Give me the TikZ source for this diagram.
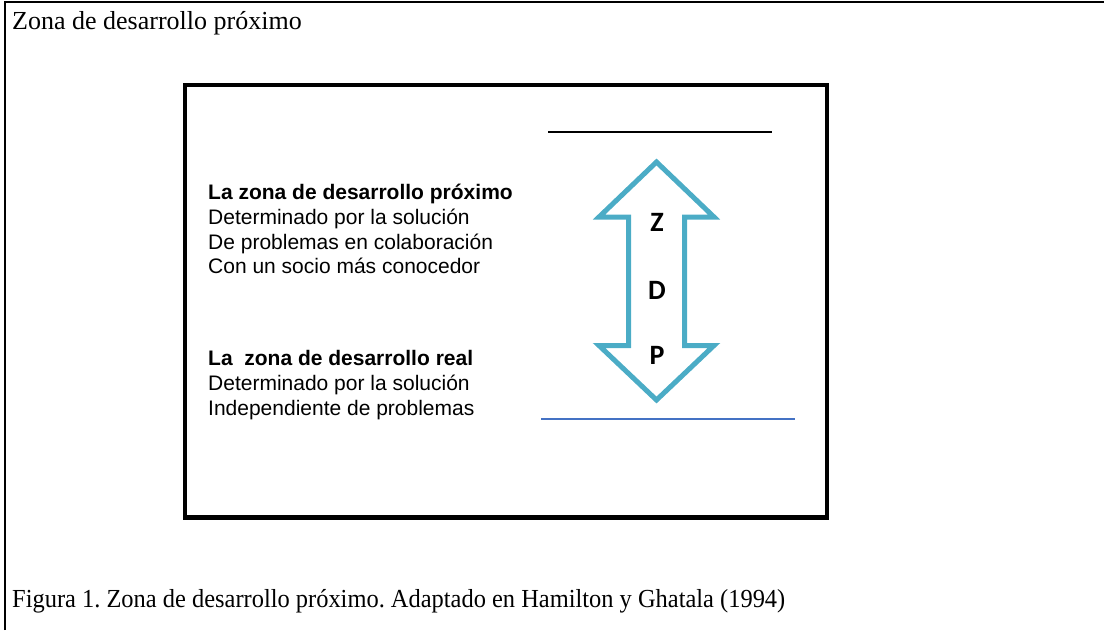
\documentclass[tikz,border=0pt]{standalone}
\usepackage{fontspec}
\setmainfont{Liberation Serif}
\newfontfamily\arialfont{Liberation Sans}
\newfontfamily\calfont{Carlito}
\definecolor{arrowteal}{HTML}{4BACC6}
\definecolor{lineblue}{HTML}{4472C4}
\frenchspacing
\begin{document}
\begin{tikzpicture}[x=1pt,y=-1pt,
  serifbig/.style={anchor=base west,inner sep=0pt,font=\fontsize{26}{30}\selectfont},
  bodytext/.style={anchor=base west,inner sep=0pt,font=\arialfont\fontsize{21}{24}\selectfont},
  letter/.style={anchor=base,inner sep=0pt,font=\calfont\bfseries\fontsize{28}{30}\selectfont}]
\useasboundingbox (0,0) rectangle (1104,630);
% outer frame (top and left)
\draw[line width=2.5pt] (5,630) -- (5,2) -- (1104,2);
% title
\node[serifbig] (title) at (12,29) {Zona de desarrollo próximo};
% inner box
\draw[line width=4.5pt] (185,85) rectangle (827,517.5);
% lines
\coordinate (tl1) at (548,131.5);
\coordinate (tl2) at (772,131.5);
\draw[line width=2pt] (tl1) -- (tl2);
\coordinate (bl1) at (541,418.5);
\coordinate (bl2) at (795,418.5);
\draw[line width=2pt,lineblue] (bl1) -- (bl2);
% double arrow
\draw[line width=5pt,arrowteal,line join=miter]
  (656.5,162) -- (714,217) -- (684.5,217) -- (684.5,345.5) -- (714,345.5)
  -- (656.5,400) -- (599,345.5) -- (628.5,345.5) -- (628.5,217) -- (599,217) -- cycle;
\node[letter] (z) at (657,231) {Z};
\node[letter] (d) at (657,299) {D};
\node[letter] (p) at (657,364) {P};
% text block 1
\node[bodytext] (a1) at (208,199) {\bfseries La zona de desarrollo próximo};
\node[bodytext] (a2) at (208,224) {Determinado por la solución};
\node[bodytext] (a3) at (208,249) {De problemas en colaboración};
\node[bodytext] (a4) at (208,273.5) {Con un socio más conocedor};
% text block 2
\node[bodytext] (b1) at (208,365) {\bfseries La\ \ zona de desarrollo real};
\node[bodytext] (b2) at (208,390) {Determinado por la solución};
\node[bodytext] (b3) at (208,415) {Independiente de problemas};
% caption
\node[serifbig] (cap) at (12,607) {\scalebox{0.94}[1]{Figura 1. Zona de desarrollo próximo. Adaptado en Hamilton y Ghatala (1994)}};
\end{tikzpicture}
\end{document}
